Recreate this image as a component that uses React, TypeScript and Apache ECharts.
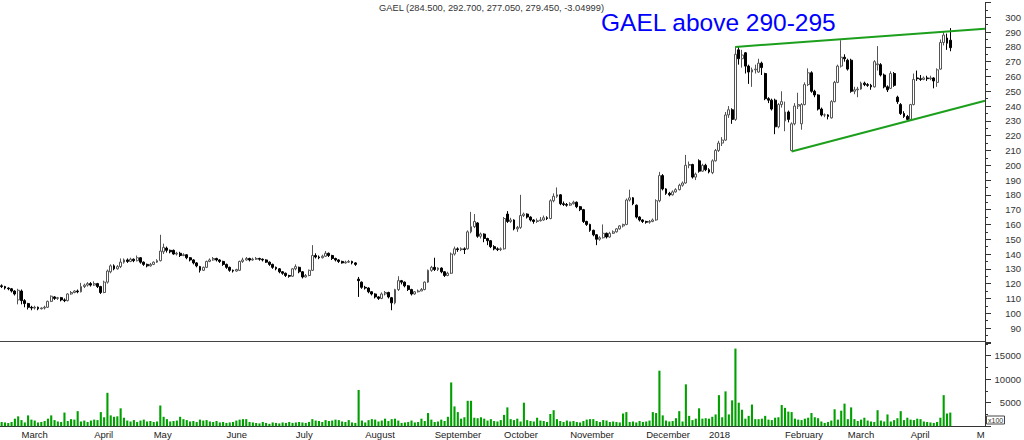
import React, { useEffect, useRef } from "react";
import * as echarts from "echarts";

// [open, close, low, high]
const ohlc: [number, number, number, number][] = [
  [118.5, 118, 117, 119.5], [118, 117, 116, 118.5], [117, 116.5, 115.5, 117.5], [116.5, 115, 114, 117], [115, 113, 112, 115.5],
  [109, 115.5, 106, 116.5], [115, 108.5, 106, 116], [108.5, 106.5, 104, 109.5], [106.5, 104, 102.5, 107], [104, 103.5, 102, 105],
  [103.5, 104, 102.5, 105], [104, 103, 102, 104.5], [103, 103.5, 102.5, 104], [103.5, 104, 102.5, 105], [104, 108, 103.5, 108.5],
  [108, 111.5, 107.5, 112], [111, 110, 109, 111.5], [110, 110.5, 109, 111], [110.5, 109, 108, 111], [109, 108.5, 107.5, 110],
  [108.5, 113, 108, 113.5], [113, 114, 112.5, 115], [114, 115, 113.5, 115.5], [115, 114.5, 113.5, 116], [114.5, 118, 114, 120.5],
  [118, 119, 117, 120], [119, 120, 118, 121], [120, 119, 118, 121], [119, 120, 118.5, 121.5], [120, 118, 117, 120.5],
  [118, 114, 113, 118.5], [114, 121, 113.5, 122], [121, 128.5, 120, 129.5], [128, 132, 127, 133], [132, 130, 129, 133],
  [130, 131.5, 129.5, 132.5], [131.5, 134.5, 130.5, 137], [134.5, 136, 133.5, 137], [136, 135, 134, 137], [135, 136.5, 134.5, 137.5],
  [136.5, 135.5, 134.5, 137], [135.5, 137.5, 135, 139], [137.5, 134.5, 133.5, 138], [134.5, 133, 132, 135], [133, 132, 131, 133.5],
  [132, 133, 131.5, 134], [133, 134.5, 132.5, 135], [134.5, 135.5, 134, 136.5], [135.5, 142, 135, 153], [141.5, 144.5, 140, 147],
  [144, 142.5, 141, 145], [142.5, 141.5, 140.5, 143], [142.5, 140, 139.5, 143], [140, 140.5, 139, 141.5], [140.5, 139, 138, 141.5],
  [139, 139.5, 138.5, 140.5], [139.5, 137.5, 136.5, 140], [137.5, 136, 135, 138], [136, 134, 133, 136.5], [134, 132, 131, 134.5],
  [131.5, 129, 127.5, 132], [129, 131, 128.5, 131.5], [131, 135, 130.5, 135.5], [135, 136, 134.5, 137], [136, 137, 135.5, 138],
  [137, 136, 135, 137.5], [136, 135, 134, 136.5], [135, 133, 132, 135.5], [133, 131, 130, 133.5], [131, 129, 128, 131.5],
  [129, 128.5, 127.5, 129.5], [128.5, 129.5, 128, 130], [129, 135, 128.5, 135.5], [135, 136, 134, 137.5], [136, 137, 135.5, 138],
  [137, 136, 135, 137.5], [136, 136.5, 135.5, 137.5], [136.5, 137, 136, 138], [137, 136.5, 135.5, 137.5], [136.5, 136, 135, 137],
  [136, 134.5, 134, 136.5], [134.5, 133, 132, 135], [133, 131, 130, 133.5], [131, 130, 129, 131.5], [130, 128, 127, 130.5],
  [128, 127, 126, 128.5], [127, 125.5, 124.5, 127.5], [125.5, 125, 124, 126], [125, 130, 124.5, 130.5], [130, 131.5, 129, 133],
  [131, 128, 127, 131.5], [128, 124.5, 123.5, 128.5], [124.5, 125.5, 124, 126.5], [125.5, 129, 125, 129.5], [129, 139, 128.5, 146],
  [139, 138, 137, 140.5], [138, 137.5, 136.5, 139], [137.5, 138.5, 137, 139.5], [138.5, 140.5, 138, 142], [140.5, 139, 138, 141],
  [139, 137, 136, 139.5], [137, 136, 135, 137.5], [136, 135, 134, 136.5], [135, 134, 133.5, 135.5], [134, 134.5, 133.5, 135.5],
  [134.5, 135, 134, 136], [135, 134, 133, 135.5], [134, 133, 132, 134.5], [123, 122, 111, 124.5], [121, 117.5, 116.5, 121.5],
  [117.5, 117, 116, 118.5], [117, 114.5, 113.5, 117.5], [114.5, 113, 112, 115], [113, 111, 110, 113.5], [111, 110, 109, 111.5],
  [110, 113, 109.5, 114], [113, 114, 112, 115], [114, 111, 110, 114.5], [110.5, 107, 102, 111], [107, 116, 106, 116.5],
  [116, 122, 115, 125], [122, 121, 119.5, 122.5], [121, 118.5, 117.5, 121.5], [118.5, 116, 115, 119], [116, 113, 112, 116.5],
  [113, 114.5, 112.5, 115], [114.5, 115, 114, 116], [115, 116, 115, 117], [116, 121, 115.5, 121.5], [121, 129, 120.5, 129.5],
  [129, 131, 128, 132], [131, 129.5, 128.5, 137.5], [129.5, 130.5, 128.5, 131], [130.5, 128, 127, 131], [128, 125.5, 124.5, 128.5],
  [125.5, 127, 125, 128], [127, 140, 126.5, 141], [140, 143.5, 139, 145], [143.5, 143, 141.5, 144.5], [143, 143.5, 142, 144.5],
  [143.5, 143, 140, 144.5], [143.5, 155, 143, 156], [155, 158.5, 154, 168.5], [158.5, 162, 157.5, 167], [161, 152, 151, 161.5],
  [152, 153.5, 150.5, 154.5], [153.5, 150.5, 148, 154], [150.5, 149, 146, 151], [149, 145, 144, 149.5], [145, 143.5, 142.5, 146],
  [143.5, 143, 142, 144.5], [143, 143.5, 142, 144.5], [143.5, 164, 143, 165], [167, 162, 161, 169], [162, 163, 161, 164.5],
  [163, 157, 156, 163.5], [157, 158, 155, 159], [158, 166, 157, 180], [166, 167, 165, 168], [167, 165, 164, 167.5],
  [165, 163, 162, 165.5], [163, 162, 160.5, 163.5], [162, 162.5, 161, 164], [162.5, 163, 162, 165], [163, 164.5, 162.5, 166],
  [164.5, 164, 163, 165.5], [164, 176, 163.5, 177], [176, 179, 175, 181], [179, 180, 178, 185], [180, 174, 173, 180.5],
  [174, 173.5, 172.5, 175.5], [173.5, 173, 172, 174.5], [173, 174, 172.5, 175], [174, 175, 173.5, 176], [175, 172, 171, 175.5],
  [172, 170, 169, 172.5], [170, 162, 161, 170.5], [162, 160, 159, 162.5], [160, 156, 155, 160.5], [156, 153, 152, 156.5],
  [153, 150, 146, 153.5], [150, 151, 149, 152], [151, 154, 150.5, 160], [154, 151.5, 150.5, 154.5], [151.5, 154, 151, 155],
  [154, 155, 153.5, 156], [155, 157, 154.5, 157.5], [157, 159, 156.5, 159.5], [159, 160, 158, 160.5], [160, 176.5, 159.5, 177.5],
  [176.5, 178, 175.5, 183.5], [178, 174, 173, 178.5], [173, 165, 164, 173.5], [165, 163, 162, 165.5], [163, 162, 161, 163.5],
  [162, 161.5, 160.5, 162.5], [161.5, 162, 160.5, 163], [162, 163, 161.5, 164], [163, 176, 162.5, 177], [176, 193, 175, 195.5],
  [193, 184, 183, 194], [184, 181, 180, 184.5], [181, 180, 179, 182], [180, 182, 179.5, 183], [182, 183.5, 181.5, 184.5],
  [183.5, 186.5, 183, 187.5], [186.5, 188, 185.5, 189], [188, 200, 187.5, 207], [200, 200.5, 198, 202.5], [200.5, 192, 191, 201],
  [192, 194, 190, 195], [203, 196, 195, 204], [196, 200, 195.5, 201], [200, 197, 196, 201], [197, 195.5, 194.5, 198],
  [195, 203, 194, 204], [203, 210, 202.5, 211], [210, 215, 209, 216.5], [215, 217, 213, 219], [217, 234, 216.5, 236],
  [234, 237.5, 232, 240], [237.5, 231, 228, 238.5], [231, 275, 230, 280], [278, 272, 268, 280.5], [272, 274.5, 266, 278],
  [276, 267, 262, 276.5], [267, 263, 255, 268], [263, 264.5, 253, 266], [264.5, 265, 262, 268], [263, 269, 262.5, 272],
  [269, 266, 261, 270], [262, 245, 244, 262.5], [245, 244, 242, 246], [244, 238, 237, 245], [244, 226, 221, 245],
  [226, 241, 225, 242], [241, 243, 239, 250], [230, 236, 223, 243], [236, 231, 229, 237], [210, 228, 209.5, 229],
  [228, 240, 227, 242], [240, 241, 238, 249], [228, 241, 224, 242], [241, 254.5, 240.5, 256], [254.5, 262.5, 253.5, 265.5],
  [262.5, 250, 249, 263.5], [250, 247.5, 246, 251], [247.5, 238, 237, 248], [238, 234, 233, 239], [234, 234, 232.5, 235],
  [234, 233, 231, 234.5], [232, 243, 231.5, 244], [243, 256, 242.5, 257], [256, 267, 255.5, 268], [267, 273, 266, 284.5],
  [273, 272, 270, 275], [271, 265, 264, 272], [271, 250, 249, 272], [250, 251, 248, 253], [251, 251.5, 246, 253],
  [251.5, 255.5, 251, 256.5], [255.5, 254.5, 253.5, 256.5], [254.5, 254, 253, 255.5], [254, 253, 251, 255], [253, 270, 252.5, 271],
  [268, 268.5, 264, 280.5], [268, 261, 260, 269], [261, 253, 252, 262], [253, 251, 249.5, 254], [252, 262, 251.5, 263.5],
  [262, 254, 253, 263], [246, 243, 241.5, 247], [241, 235, 234, 242], [235, 233, 232, 236.5], [233, 231, 230, 234],
  [231, 241, 230.5, 241.5], [241, 258, 240.5, 262], [259, 258.5, 257, 264], [258.5, 258, 257, 261], [258, 259, 257.5, 260],
  [259, 258.5, 257, 260.5], [258.5, 259, 257.5, 260.5], [259, 257, 252, 259.5], [256, 264.5, 253, 265.5], [265, 283, 264.5, 285],
  [283, 288, 281, 290], [286, 282.5, 278, 289], [284.5, 279.45, 277.05, 292.7],
];

// volume in units of 100 shares
const volume: number[] = [
  900, 800, 700, 900, 1600, 2100, 1300, 800, 2300, 1400,
  1200, 800, 900, 1100, 1600, 2300, 1300, 1000, 900, 2900,
  1100, 1500, 1400, 3200, 1000, 1200, 900, 1200, 1400, 1300,
  3000, 1900, 7100, 2300, 2000, 2100, 3800, 1800, 1200, 1000,
  1300, 900, 1200, 1400, 1000, 1100, 900, 1000, 4400, 2000,
  1500, 1000, 1100, 1200, 2000, 1500, 1300, 1000, 1100, 900,
  1400, 1200, 1300, 1000, 900, 1100, 800, 900, 700, 800,
  900, 1200, 1400, 1500, 1500, 900, 800, 700, 600, 900,
  700, 500, 800, 700, 600, 800, 700, 900, 700, 800,
  900, 800, 700, 900, 1500, 1200, 1100, 900, 1300, 1100,
  1200, 1400, 1300, 1000, 900, 1300, 800, 700, 7700, 1200,
  800, 1300, 1500, 1400, 1000, 1200, 1600, 1100, 1500, 1600,
  1200, 700, 800, 900, 1200, 800, 900, 1600, 1100, 2800,
  1400, 900, 1000, 1400, 1100, 2000, 9300, 4200, 3000, 1600,
  1900, 5400, 5400, 1800, 1700, 1900, 1600, 1200, 1500, 1100,
  1000, 1300, 2400, 4000, 1500, 1300, 1600, 1000, 5000, 1300,
  1100, 1000, 1800, 1200, 1100, 900, 2600, 3400, 1500, 1100,
  900, 1200, 1000, 1100, 900, 800, 1100, 1400, 1500, 1500,
  1100, 900, 1300, 1200, 900, 1000, 900, 800, 2700, 3000,
  900, 1000, 800, 1100, 900, 1000, 1200, 3000, 2800, 11800,
  2300, 1200, 1000, 1100, 1700, 3200, 1000, 8900, 2200, 1300,
  1600, 3800, 1600, 1700, 1600, 2000, 2500, 6600, 1900, 7400,
  2500, 5500, 16500, 5000, 3500, 1600, 2200, 4600, 1500, 1500,
  1600, 2200, 1400, 1300, 1800, 1900, 4500, 3900, 3100, 3000,
  1600, 1400, 1300, 1600, 1800, 2800, 1900, 1700, 1000, 700,
  900, 1200, 3600, 1400, 3300, 4800, 1500, 4000, 1500, 1100,
  1400, 1800, 1200, 1000, 900, 3400, 1200, 1000, 2500, 1000,
  1300, 1700, 3200, 1300, 1800, 1400, 1300, 1600, 1500, 1000,
  900, 800, 700, 900, 1800, 6600, 2700, 2900,
];

const slotCount = 298;
const monthStarts = [6, 28, 46, 68, 89, 110, 131, 152, 172, 195, 214, 237, 256, 275, 295];
const monthLabels = ["March", "April", "May", "June", "July", "August", "September", "October", "November", "December", "2018", "February", "March", "April", "M"];
const priceLabels = [90, 100, 110, 120, 130, 140, 150, 160, 170, 180, 190, 200, 210, 220, 230, 240, 250, 260, 270, 280, 290, 300];
const volumeLabels = [5000, 10000, 15000];

// trend lines: [slot position, price]
const upperTrend = [[222.4, 280], [298, 292.3]];
const lowerTrend = [[239.5, 209.3], [298, 243.6]];

const titleText = "GAEL (284.500, 292.700, 277.050, 279.450, -3.04999)";
const noteText = "GAEL above 290-295";

export default function App() {
  const ref = useRef<HTMLDivElement>(null);
  useEffect(() => {
    document.body.style.margin = "0";
    const chart = echarts.init(ref.current!, null, { renderer: "svg" });
    const categories = Array.from({ length: slotCount }, (_, i) => String(i));
    const font = "'Liberation Sans', Arial, sans-serif";
    const axisColor = "#333";
    chart.setOption({
      animation: false,
      backgroundColor: "#fff",
      textStyle: { fontFamily: font },
      grid: [
        { left: 0, width: 985, top: 2.5, height: 340.3 },
        { left: 0, width: 985, top: 342, height: 84.2 },
      ],
      xAxis: [
        { type: "category", gridIndex: 0, data: categories, show: false },
        {
          type: "category", gridIndex: 1, data: categories,
          axisLine: { onZero: false, lineStyle: { color: axisColor } },
          axisTick: { interval: (i: number) => monthStarts.includes(i), length: 14, lineStyle: { color: axisColor } },
          axisLabel: {
            interval: (i: number) => monthStarts.includes(i),
            formatter: (v: string) => { const k = monthStarts.indexOf(Number(v)); return k >= 0 ? monthLabels[k] : ""; },
            align: "left", margin: 3, fontSize: 9.5, color: "#222", fontFamily: font,
          },
        },
        {
          type: "category", gridIndex: 1, data: categories,
          axisLine: { show: false, onZero: false }, axisLabel: { show: false },
          axisTick: { interval: 4, length: 4, lineStyle: { color: axisColor } },
        },
        { type: "value", gridIndex: 0, min: 0, max: slotCount, show: false },
      ],
      yAxis: [
        {
          type: "value", gridIndex: 0, position: "right", min: 80, max: 310, interval: 10,
          splitLine: { show: false },
          axisLine: { show: true, onZero: false, lineStyle: { color: axisColor } },
          axisTick: { show: true, length: 6, lineStyle: { color: axisColor } },
          minorTick: { show: true, splitNumber: 2, length: 3, lineStyle: { color: axisColor } },
          axisLabel: {
            formatter: (v: number) => (priceLabels.includes(v) ? String(v) : ""),
            align: "right", margin: 36, fontSize: 9.5, color: "#333", fontFamily: font,
          },
        },
        {
          type: "value", gridIndex: 1, position: "right", min: 0, max: 17900, interval: 5000,
          splitLine: { show: false },
          axisLine: { show: true, onZero: false, lineStyle: { color: axisColor } },
          axisTick: { show: true, length: 6, lineStyle: { color: axisColor } },
          minorTick: { show: true, splitNumber: 2, length: 3, lineStyle: { color: axisColor } },
          axisLabel: {
            formatter: (v: number) => (volumeLabels.includes(v) ? String(v) : ""),
            align: "right", margin: 36, fontSize: 9.5, color: "#333", fontFamily: font,
          },
        },
      ],
      series: [
        {
          type: "candlestick", xAxisIndex: 0, yAxisIndex: 0, data: ohlc, barWidth: 2.4,
          itemStyle: { color: "#fff", color0: "#000", borderColor: "#555", borderColor0: "#000", borderWidth: 1 },
        },
        {
          type: "bar", xAxisIndex: 1, yAxisIndex: 1, data: volume, barWidth: 2.1,
          itemStyle: { color: "#00a000" },
        },
        {
          type: "line", xAxisIndex: 3, yAxisIndex: 0, data: upperTrend, symbol: "none",
          lineStyle: { color: "#1c9f1c", width: 2 },
        },
        {
          type: "line", xAxisIndex: 3, yAxisIndex: 0, data: lowerTrend, symbol: "none",
          lineStyle: { color: "#1c9f1c", width: 2 },
        },
      ],
      graphic: [
        { type: "text", x: 379, y: 8, style: { text: titleText, fontSize: 9.3, fill: "#333", fontFamily: font, verticalAlign: "middle" } },
        { type: "text", x: 601, y: 22, style: { text: noteText, fontSize: 24.5, fill: "#0000ff", fontFamily: font, verticalAlign: "middle" } },
        { type: "line", shape: { x1: 0, y1: 341.5, x2: 985, y2: 341.5 }, style: { stroke: "#444", lineWidth: 1 } },
        { type: "rect", shape: { x: 986.5, y: 416, width: 18, height: 8 }, style: { fill: "#fff", stroke: "#444", lineWidth: 1 } },
        { type: "text", x: 988, y: 420.5, style: { text: "x100", fontSize: 7, fill: "#333", fontFamily: font, verticalAlign: "middle" } },
      ],
    });
    return () => chart.dispose();
  }, []);
  return <div ref={ref} style={{ width: 1024, height: 440 }} />;
}
